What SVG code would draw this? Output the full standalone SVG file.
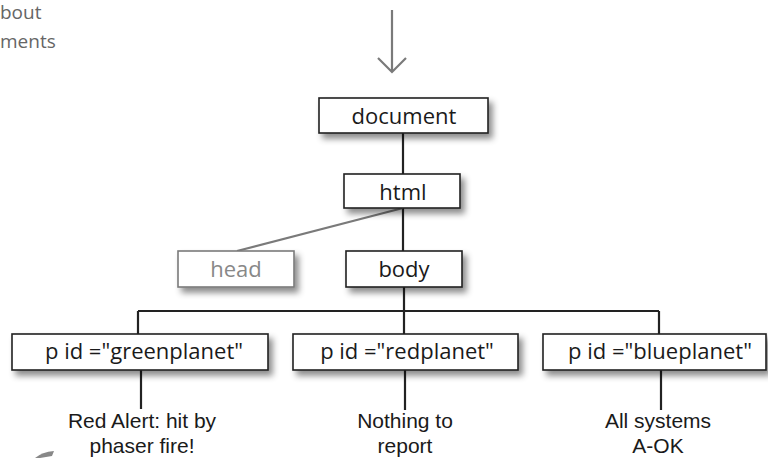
<svg xmlns="http://www.w3.org/2000/svg" width="768" height="458" viewBox="0 0 768 458">
<defs>
<filter id="sh" x="-10%" y="-30%" width="130%" height="180%">
<feDropShadow dx="4" dy="5" stdDeviation="3" flood-color="#000" flood-opacity="0.45"/>
</filter>
<style>
.box{fill:#fff;stroke:#222;stroke-width:1.6;filter:url(#sh)}
.gbox{fill:#fff;stroke:#7a7a7a;stroke-width:1.6;filter:url(#sh)}
.t{font-family:"Open Sans","DejaVu Sans",sans-serif;font-size:22px;fill:#1a1a1a;text-anchor:middle}
.gt{fill:#888}
.lbl{font-family:"Liberation Sans",Arial,sans-serif;font-size:21px;fill:#1a1a1a;text-anchor:middle}
.note{font-family:"Open Sans","DejaVu Sans",sans-serif;font-size:19px;fill:#666}
.c{stroke:#222;stroke-width:2.2;fill:none}
.gc{stroke:#7a7a7a;stroke-width:2.2;fill:none}
</style>
</defs>
<rect width="768" height="458" fill="#fff"/>
<text class="note" x="0" y="19">bout</text>
<text class="note" x="0" y="48">ments</text>
<path d="M35 458 Q42 452 54 451 L52 456 Q46 457 40 458 Z" fill="#888"/>
<g id="connectors">
<path class="gc" d="M392 10 V72 M378 58 L392 72 L406 58"/>
<path class="c" d="M403 133 V174"/>
<path class="c" d="M403 208 V251"/>
<path class="gc" d="M237 251 L403 208"/>
<path class="c" d="M404 287 V311 M138 311 H659 M138 311 V334 M404 311 V334 M659 311 V334"/>
<path class="c" d="M141 370 V409 M405 370 V410 M661 370 V410"/>
</g>
<g id="document"><rect class="box" x="319" y="98" width="169" height="35"/><text class="t" x="404" y="124">document</text></g>
<g id="html"><rect class="box" x="344" y="174" width="116" height="34"/><text class="t" x="403" y="200">html</text></g>
<g id="head"><rect class="gbox" x="178" y="251" width="116" height="36"/><text class="t gt" x="236" y="277">head</text></g>
<g id="body"><rect class="box" x="346" y="251" width="116" height="36"/><text class="t" x="404" y="277">body</text></g>
<g id="greenplanet"><rect class="box" x="12" y="334" width="256" height="36"/><text class="t" x="144" y="359">p id ="greenplanet"</text></g>
<g id="redplanet"><rect class="box" x="293" y="334" width="225" height="36"/><text class="t" x="407" y="359">p id ="redplanet"</text></g>
<g id="blueplanet"><rect class="box" x="543" y="334" width="223" height="36"/><text class="t" x="660" y="359">p id ="blueplanet"</text></g>
<g id="text-green"><text class="lbl" x="142" y="428">Red Alert: hit by</text><text class="lbl" x="142" y="452.5">phaser fire!</text></g>
<g id="text-red"><text class="lbl" x="405" y="428">Nothing to</text><text class="lbl" x="405" y="452.5">report</text></g>
<g id="text-blue"><text class="lbl" x="658" y="428">All systems</text><text class="lbl" x="658" y="452.5">A-OK</text></g>
</svg>
